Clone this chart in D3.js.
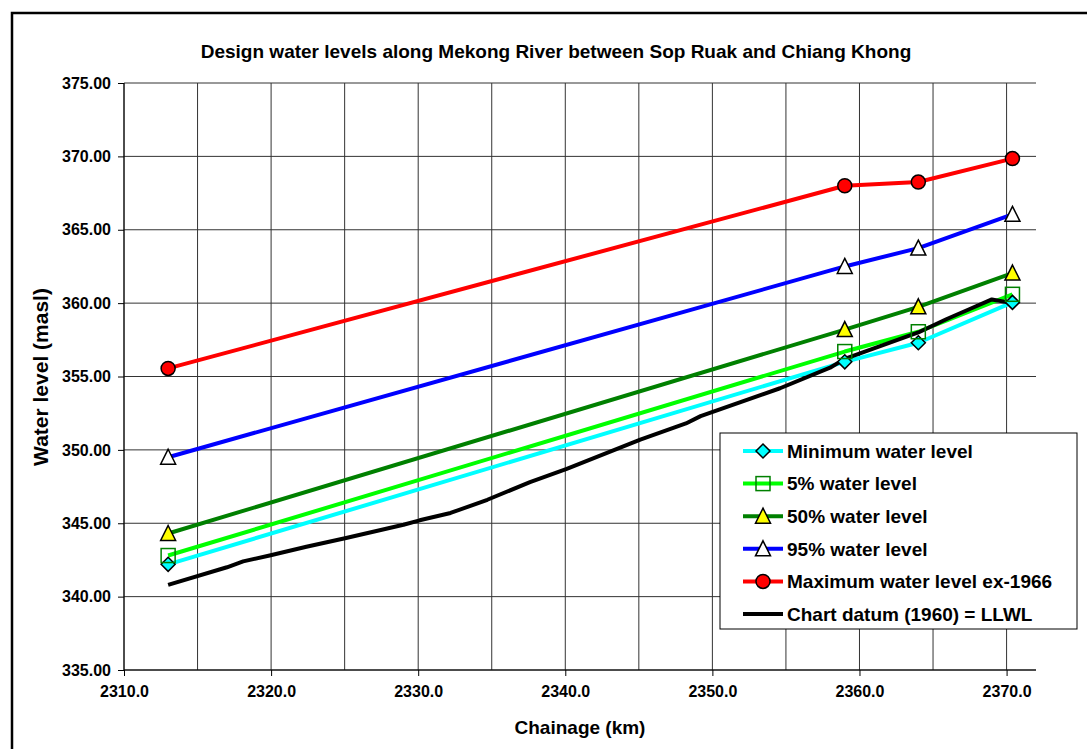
<!DOCTYPE html>
<html>
<head>
<meta charset="utf-8">
<script src="https://cdn.jsdelivr.net/npm/d3@7"></script>
<style>
  body { margin: 0; background: #fff; }
  svg { font-family: "Liberation Sans", Arial, sans-serif; font-weight: bold; }
</style>
</head>
<body>
<svg id="chart" width="1087" height="749"></svg>
<script>
// chainage of the design points (km)
var chainage = [2313.0, 2359.0, 2364.0, 2370.4];

var minLevel = [342.2, 356.0, 357.3, 360.05];
var level5 = [342.8, 356.7, 358.05, 360.6];
var level50 = [344.3, 358.2, 359.75, 362.05];
var level95 = [349.5, 362.5, 363.75, 366.05];
var maxLevel = [355.55, 368.0, 368.25, 369.85];

// chart datum (1960) = LLWL
var datumKm = [2313.0, 2317.0, 2318.1, 2319.9, 2322.4, 2325.1, 2329.0, 2330.1, 2332.2, 2334.7,
    2337.6, 2340.1, 2345.1, 2348.2, 2349.2, 2354.6, 2358.0, 2359.0, 2364.0, 2365.9, 2367.5, 2369.0, 2370.4];
var datumLevel = [340.8, 342.0, 342.4, 342.8, 343.4, 344.0, 344.9, 345.2, 345.7, 346.6,
    347.8, 348.7, 350.7, 351.8, 352.3, 354.2, 355.6, 356.2, 358.0, 358.9, 359.6, 360.25, 360.0];

var seriesNames = ["Minimum water level", "5% water level", "50% water level",
    "95% water level", "Maximum water level ex-1966", "Chart datum (1960) = LLWL"];

var yTicks = [335, 340, 345, 350, 355, 360, 365, 370, 375];
var xTicks = [2310, 2320, 2330, 2340, 2350, 2360, 2370];
var xGrid = [2310, 2315, 2320, 2325, 2330, 2335, 2340, 2345, 2350, 2355, 2360, 2365, 2370];

var series = [
    {name: seriesNames[0], x: chainage, y: minLevel, color: "#00ffff", marker: "diamond", fill: "#00ffff", mstroke: "#000"},
    {name: seriesNames[1], x: chainage, y: level5, color: "#00ff00", marker: "square", fill: "none", mstroke: "#008000"},
    {name: seriesNames[2], x: chainage, y: level50, color: "#008000", marker: "triangle", fill: "#ffff00", mstroke: "#000"},
    {name: seriesNames[3], x: chainage, y: level95, color: "#0000ff", marker: "triangle", fill: "#fff", mstroke: "#000"},
    {name: seriesNames[4], x: chainage, y: maxLevel, color: "#ff0000", marker: "circle", fill: "#ff0000", mstroke: "#000"},
    {name: seriesNames[5], x: datumKm, y: datumLevel, color: "#000", marker: null}
];

var svg = d3.select("#chart");

var plotLeft = 124, plotRight = 1036, plotTop = 83, plotBottom = 670;

var x = d3.scaleLinear().domain([2310, 2372]).range([plotLeft, plotRight]);
var y = d3.scaleLinear().domain([335, 375]).range([plotBottom, plotTop]);

// outer frame (runs past the right and bottom edges)
svg.append("rect")
    .attr("x", 12).attr("y", 13)
    .attr("width", 1100).attr("height", 760)
    .attr("fill", "none").attr("stroke", "#000").attr("stroke-width", 2.5);

// gridlines
svg.append("g").selectAll("line")
    .data(yTicks)
    .enter().append("line")
    .attr("x1", plotLeft).attr("x2", plotRight)
    .attr("y1", function (d) { return y(d); })
    .attr("y2", function (d) { return y(d); })
    .attr("stroke", "#333").attr("stroke-width", 1);

svg.append("g").selectAll("line")
    .data(xGrid)
    .enter().append("line")
    .attr("x1", function (d) { return x(d); })
    .attr("x2", function (d) { return x(d); })
    .attr("y1", plotTop).attr("y2", plotBottom)
    .attr("stroke", "#333").attr("stroke-width", 1);

// axes
var yAxis = d3.axisLeft(y).tickValues(yTicks).tickFormat(d3.format(".2f")).tickSize(6).tickPadding(7);
var xAxis = d3.axisBottom(x).tickValues(xTicks).tickFormat(d3.format(".1f")).tickSize(6).tickPadding(10);

var gy = svg.append("g").attr("transform", "translate(" + plotLeft + ",0)").call(yAxis);
var gx = svg.append("g").attr("transform", "translate(0," + plotBottom + ")").call(xAxis);
[gy, gx].forEach(function (g) {
    g.attr("font-size", null).attr("font-family", null);
    g.select(".domain").remove();
    g.selectAll(".tick line").attr("stroke", "#000");
    g.selectAll("text").style("font-size", "16px").style("font-weight", "bold").attr("fill", "#000");
});
svg.append("line").attr("x1", plotLeft).attr("x2", plotLeft).attr("y1", plotTop).attr("y2", plotBottom).attr("stroke", "#000");
svg.append("line").attr("x1", plotLeft).attr("x2", plotRight).attr("y1", plotBottom).attr("y2", plotBottom).attr("stroke", "#000");

// titles
svg.append("text").attr("x", 556).attr("y", 58).attr("text-anchor", "middle")
    .style("font-size", "19px").text("Design water levels along Mekong River between Sop Ruak and Chiang Khong");
svg.append("text").attr("x", 580).attr("y", 734).attr("text-anchor", "middle")
    .style("font-size", "19px").text("Chainage (km)");
svg.append("text").attr("transform", "translate(48,377) rotate(-90)").attr("text-anchor", "middle")
    .style("font-size", "21px").text("Water level (masl)");

// markers
function drawMarker(g, type, fill, stroke) {
    if (type === "diamond") {
        g.append("path").attr("d", "M0,-7L7,0L0,7L-7,0Z");
    } else if (type === "square") {
        g.append("rect").attr("x", -7).attr("y", -7).attr("width", 14).attr("height", 14);
    } else if (type === "triangle") {
        g.append("path").attr("d", "M0,-8L7.5,7L-7.5,7Z");
    } else if (type === "circle") {
        g.append("circle").attr("r", 7);
    }
    g.selectAll("*").attr("fill", fill).attr("stroke", stroke).attr("stroke-width", 1.5);
}

var line = d3.line()
    .x(function (d) { return x(d[0]); })
    .y(function (d) { return y(d[1]); });

series.forEach(function (s) {
    var pts = d3.zip(s.x, s.y);
    svg.append("path")
        .datum(pts)
        .attr("d", line)
        .attr("fill", "none")
        .attr("stroke", s.color)
        .attr("stroke-width", 4)
        .attr("stroke-linejoin", "round");
});

series.forEach(function (s) {
    if (!s.marker) return;
    d3.zip(s.x, s.y).forEach(function (p) {
        var g = svg.append("g").attr("transform", "translate(" + x(p[0]) + "," + y(p[1]) + ")");
        drawMarker(g, s.marker, s.fill, s.mstroke);
    });
});

// legend
var lg = svg.append("g").attr("transform", "translate(720,433)");
lg.append("rect").attr("width", 357).attr("height", 196)
    .attr("fill", "#fff").attr("stroke", "#000").attr("stroke-width", 1);

series.forEach(function (s, i) {
    var cy = 18 + i * 32.6;
    lg.append("line").attr("x1", 23).attr("x2", 63).attr("y1", cy).attr("y2", cy)
        .attr("stroke", s.color).attr("stroke-width", 4);
    if (s.marker) {
        var g = lg.append("g").attr("transform", "translate(43," + cy + ")");
        drawMarker(g, s.marker, s.fill, s.mstroke);
    }
    lg.append("text").attr("x", 67).attr("y", cy).attr("dy", "0.36em")
        .style("font-size", "19px").text(s.name);
});
</script>
</body>
</html>
